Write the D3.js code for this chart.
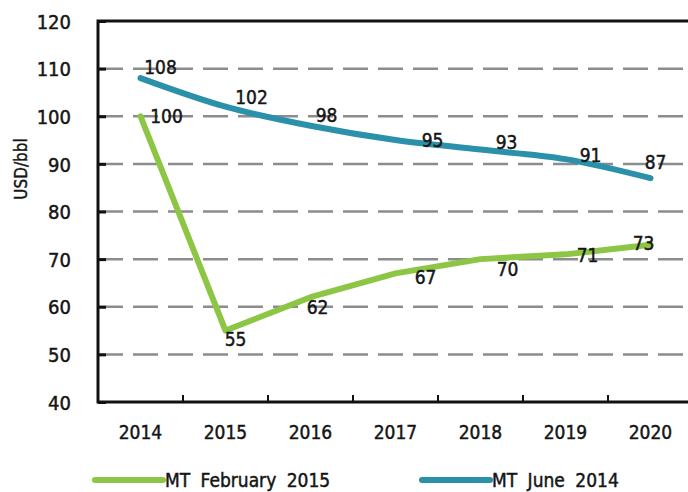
<!DOCTYPE html>
<html>
<head>
<meta charset="utf-8">
<script src="https://cdn.jsdelivr.net/npm/d3@7"></script>
<style>
  body { margin: 0; background: #fff; }
  text { font-family: "DejaVu Sans", sans-serif; font-stretch: condensed; fill: #151515; stroke: #151515; stroke-width: 0.45px; }
</style>
</head>
<body>
<svg id="chart" width="688" height="492"></svg>
<script>
(function (d3) {
    'use strict';

    // data
    var years = ['2014', '2015', '2016', '2017', '2018', '2019', '2020'];
    var juneValues = [108, 102, 98, 95, 93, 91, 87];
    var febValues = [100, 55, 62, 67, 70, 71, 73];
    var yTicks = [40, 50, 60, 70, 80, 90, 100, 110, 120];
    var seriesNames = ['MT February 2015', 'MT June 2014'];

    // label nudges (px) so the numbers sit where the original put them
    var juneNudge = [[20, -11], [26, -10], [16, -11], [37, 0], [26, -7], [25, -4], [5, -16]];
    var febNudge = [[26, 0], [10, 9], [7, 10], [30, 4], [27, 10], [22, 1], [-7, -2]];

    var teal = '#2b90a9';
    var green = '#8dc544';

    var svg = d3.select('#chart');
    var left = 98, right = 693, top = 21, bottom = 402;

    var x = d3.scaleBand().domain(years).range([left, right]);
    var y = d3.scaleLinear().domain([40, 120]).range([bottom, top]);
    var cx = function (d, i) { return x(years[i]) + x.bandwidth() / 2; };

    // dashed grid
    svg.append('g')
        .selectAll('line')
        .data(yTicks.filter(function (t) { return t > 40 && t < 120; }))
        .join('line')
        .attr('x1', left).attr('x2', 684)
        .attr('y1', function (d) { return y(d); })
        .attr('y2', function (d) { return y(d); })
        .attr('stroke', '#8c8c8c')
        .attr('stroke-width', 2.5)
        .attr('stroke-dasharray', '25,10');

    // y axis
    var yAxis = d3.axisLeft(y).tickValues(yTicks).tickSize(0).tickPadding(27);
    var gy = svg.append('g').attr('transform', 'translate(' + left + ',0)').call(yAxis);
    gy.attr('font-family', null);
    gy.select('.domain').remove();
    gy.selectAll('text').style('font-size', '20px').attr('dy', '0.36em');
    gy.selectAll('.tick')
        .append('line')
        .attr('x1', 0).attr('x2', 8)
        .attr('stroke', '#111').attr('stroke-width', 3);

    // x axis labels
    var xAxis = d3.axisBottom(x).tickSize(0).tickPadding(37);
    var gx = svg.append('g').attr('transform', 'translate(0,' + bottom + ')').call(xAxis);
    gx.attr('font-family', null);
    gx.select('.domain').remove();
    gx.selectAll('text').style('font-size', '19px').attr('dy', '0');

    // tick marks between the categories
    svg.append('g')
        .selectAll('line')
        .data(years.slice(1))
        .join('line')
        .attr('x1', function (d) { return x(d); })
        .attr('x2', function (d) { return x(d); })
        .attr('y1', bottom).attr('y2', bottom - 7)
        .attr('stroke', '#111').attr('stroke-width', 2);

    // frame: left axis, bottom axis, top border
    var frame = svg.append('g').attr('stroke', '#111').attr('stroke-width', 3).attr('fill', 'none');
    frame.append('path').attr('d', 'M' + 688 + ',' + top + 'H' + left + 'V' + bottom + 'H' + 688);

    svg.append('text')
        .attr('transform', 'translate(27,' + 169 + ') rotate(-90)')
        .attr('text-anchor', 'middle')
        .style('font-size', '17px')
        .text('USD/bbl');

    // lines
    var lineJune = d3.line().x(cx).y(function (d) { return y(d); }).curve(d3.curveMonotoneX);
    var lineFeb = d3.line().x(cx).y(function (d) { return y(d); }).curve(d3.curveLinear);

    svg.append('path').datum(febValues)
        .attr('d', lineFeb)
        .attr('fill', 'none').attr('stroke', green).attr('stroke-width', 6)
        .attr('stroke-linecap', 'round').attr('stroke-linejoin', 'round');

    svg.append('path').datum(juneValues)
        .attr('d', lineJune)
        .attr('fill', 'none').attr('stroke', teal).attr('stroke-width', 6)
        .attr('stroke-linecap', 'round').attr('stroke-linejoin', 'round');

    function labels(values, nudge) {
        svg.append('g')
            .selectAll('text')
            .data(values)
            .join('text')
            .attr('x', function (d, i) { return cx(d, i) + nudge[i][0]; })
            .attr('y', function (d, i) { return y(d) + nudge[i][1]; })
            .attr('dy', '0.36em')
            .attr('text-anchor', 'middle')
            .style('font-size', '19px')
            .text(function (d) { return d; });
    }
    labels(juneValues, juneNudge);
    labels(febValues, febNudge);

    // legend
    var legendX = [95, 422];
    var legendColors = [green, teal];
    var legend = svg.append('g')
        .selectAll('g')
        .data(seriesNames)
        .join('g')
        .attr('transform', function (d, i) { return 'translate(' + legendX[i] + ',480)'; });
    legend.append('line')
        .attr('x1', 0).attr('x2', 68)
        .attr('stroke', function (d, i) { return legendColors[i]; })
        .attr('stroke-width', 6).attr('stroke-linecap', 'round');
    legend.append('text')
        .attr('x', 70).attr('dy', '0.36em')
        .style('font-size', '19px')
        .style('word-spacing', '5px')
        .text(function (d) { return d; });

}(window.d3));
</script>
</body>
</html>
